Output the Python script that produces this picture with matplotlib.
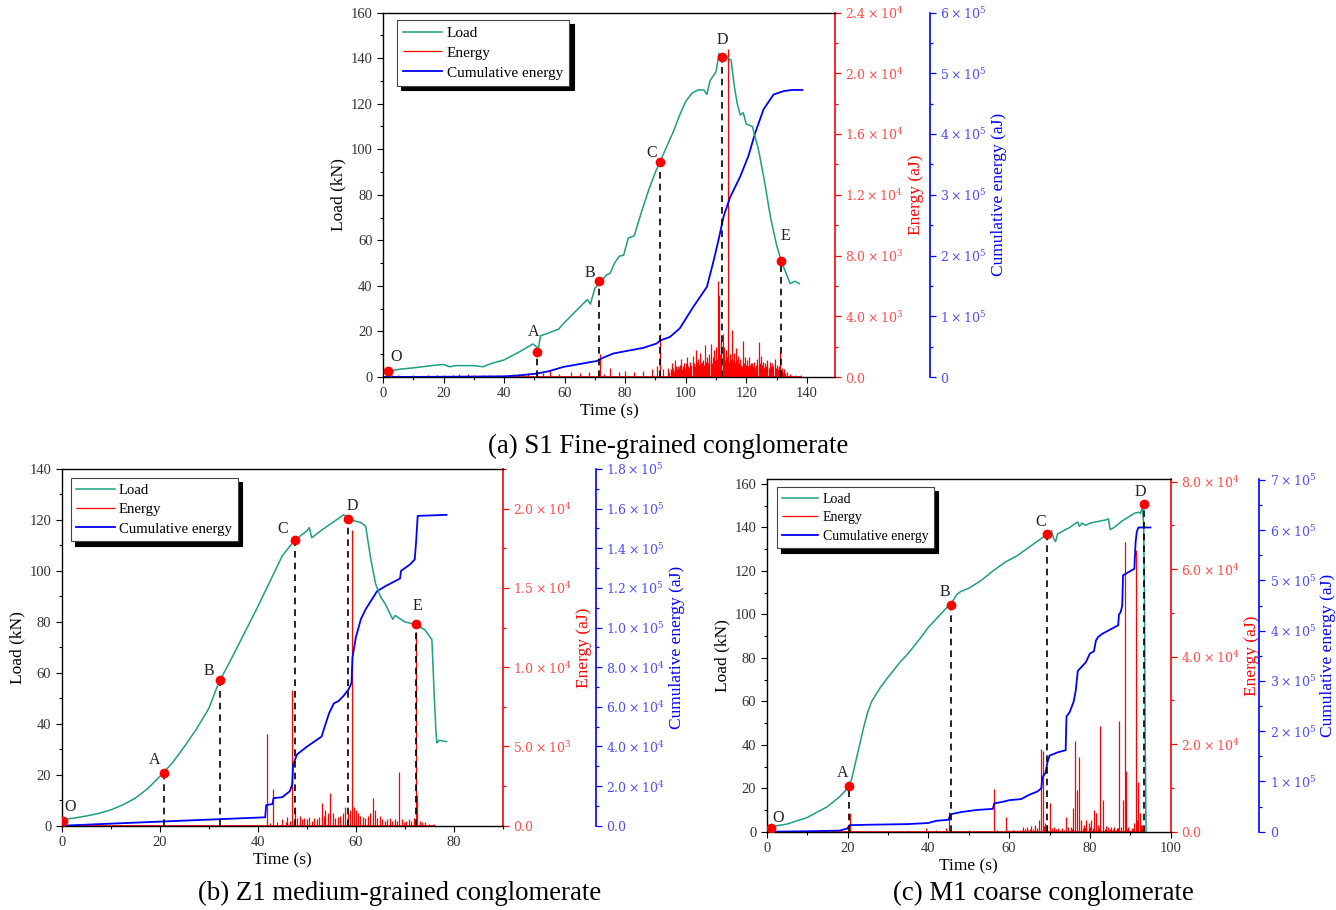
import matplotlib
matplotlib.use('Agg')
import matplotlib.pyplot as plt
from matplotlib.ticker import MultipleLocator, FixedLocator

plt.rcParams['font.family'] = ['Liberation Serif', 'DejaVu Serif']
plt.rcParams['mathtext.fontset'] = 'dejavuserif'

# ---------------- (a) S1 ----------------
A_LOAD_T = [2.8, 3.5, 6, 10, 13, 16, 20, 22, 24, 27, 30, 33, 36, 40, 45, 49.5, 50.5, 51.3, 52, 55,
            58, 60, 63, 66, 67.5, 68.5, 70, 72, 74, 75, 76.5, 78, 79.5, 81, 83, 85.5, 88, 90, 92, 94,
            96, 98, 100, 102, 104, 106, 107, 108, 110, 111, 112, 113, 114, 115, 116, 117, 118, 119, 120, 122,
            124, 126, 128, 130, 131.5, 133, 134.5, 136, 137.5]
A_LOAD = [0.5, 3, 3.5, 4, 4.5, 5, 5.5, 4.5, 5, 5, 5, 4.5, 6, 7.5, 11, 14.5, 13.5, 12, 18, 19.5,
          21, 24, 28, 32, 34, 32, 39, 42, 45, 45.5, 50, 53, 53.5, 61, 62, 73, 83, 90, 96, 102,
          108, 115, 121, 124.5, 126, 126, 124, 130, 134, 142, 138, 141, 140, 139, 128, 120, 115, 116, 111, 110,
          100, 86, 70, 58, 51, 46, 41, 42, 41]
A_E_T = [1, 3, 5, 8, 10, 13, 15, 18, 20, 23, 25, 28, 30, 33, 35, 38, 40, 43, 45, 48,
         51, 53, 55, 58, 62, 65, 68, 71.7, 73, 75, 78, 80, 83, 86, 89, 90.5, 91.5, 92.5, 94, 95.5,
         96.5, 97.5, 98.5, 99.5, 100.5, 101.5, 102.3, 103.3, 104, 104.8, 105.5, 106.3, 107, 107.8, 108.5, 109.3, 110, 110.6, 111.1, 111.6,
         112.2, 112.8, 113.4, 114, 114.6, 115.3, 116, 116.7, 117.3, 118, 118.9, 119.6, 120.3, 121, 121.8, 122.6, 123.4, 124.1, 124.8, 125.5,
         126.2, 127, 127.8, 128.6, 129.4, 130.2, 131.1, 131.8, 132.6, 133.5, 134.5, 136, 138]
A_E = [150, 100, 120, 90, 120, 80, 100, 130, 150, 120, 200, 180, 150, 130, 120, 140, 150, 180, 200, 250,
       300, 250, 450, 200, 300, 250, 300, 1540, 200, 600, 300, 400, 300, 400, 500, 700, 2860, 500, 600, 900,
       1100, 700, 1200, 900, 1300, 1000, 1400, 1750, 1200, 1600, 1000, 2100, 1300, 1500, 2200, 1800, 2000, 6300, 5400, 2400,
       2800, 2000, 1800, 21600, 1500, 3080, 1600, 1900, 1400, 1200, 2400, 1300, 1100, 1300, 900, 1000, 1200, 2300, 1400, 1000,
       900, 1100, 1000, 900, 1200, 800, 1650, 600, 500, 300, 200, 150, 100]
# dense low-level AE activity between C and E
A_NOISE_T = [94.2, 94.6, 95.0, 95.8, 96.2, 96.8, 97.2, 97.8, 98.2, 98.8, 99.2, 99.8, 100.2, 100.8, 101.2, 101.8, 102.6, 103.0, 103.6, 104.3,
             104.6, 105.2, 105.8, 106.0, 106.6, 107.3, 107.6, 108.2, 108.8, 109.0, 109.6, 110.3, 110.8, 111.4, 111.8, 112.5, 113.0, 113.7, 114.3, 114.8,
             115.0, 115.6, 116.3, 116.5, 117.0, 117.6, 118.3, 118.6, 119.3, 119.9, 120.6, 121.3, 121.5, 122.2, 122.9, 123.1, 123.7, 124.4, 125.1, 125.8,
             126.5, 126.8, 127.4, 128.1, 128.3, 128.9, 129.7, 130.5, 130.8, 131.4, 132.2, 132.9]
A_NOISE = [400, 300, 500, 600, 400, 700, 500, 600, 800, 500, 700, 600, 900, 700, 600, 800, 900, 700, 1000, 800,
           700, 900, 1100, 800, 1000, 900, 1200, 1000, 900, 1300, 1100, 1200, 1000, 1500, 1200, 1400, 1100, 1300, 1000, 1200,
           900, 1100, 1000, 800, 1100, 900, 800, 700, 900, 800, 700, 800, 900, 700, 600, 800, 700, 900, 800, 600,
           700, 800, 600, 700, 500, 700, 600, 500, 700, 400, 300, 250]
A_CUM_T = [0, 20, 40, 45, 50.7, 55, 59.5, 65, 70.6, 72.8, 76, 81.6, 86, 90.4, 91.5, 94.8, 98, 102.5, 107, 109.2,
           110.8, 112.5, 114.7, 118, 120.7, 122.9, 125.7, 129, 132.3, 135, 138.5]
A_CUM = [0, 400, 1100, 2600, 5600, 9800, 16500, 21400, 26300, 31900, 38600, 43900, 48000, 55100, 60000, 66000, 79900, 115500, 148500, 191300,
         225000, 264400, 296300, 330000, 363800, 401300, 440600, 465000, 470600, 472500, 472500]
A_PT_T = [1.5, 51, 71.5, 91.5, 112, 131.3]
A_PT_Y = [2.5, 11, 42, 94.5, 140.5, 51]
A_LAB_T = [4.2, 49.6, 68.4, 88.8, 112.2, 132.9]
A_LAB_Y = [8.8, 19.8, 45.8, 98.4, 148, 61.7]
A_E_TICKS = [0, 4000, 8000, 12000, 16000, 20000, 24000]
A_E_LABELS = [r'$0.0$', r'$4.0\times10^{3}$', r'$8.0\times10^{3}$', r'$1.2\times10^{4}$',
              r'$1.6\times10^{4}$', r'$2.0\times10^{4}$', r'$2.4\times10^{4}$']
A_C_TICKS = [0, 1e5, 2e5, 3e5, 4e5, 5e5, 6e5]
A_C_LABELS = [r'$0$'] + [r'$%d\times10^{5}$' % k for k in range(1, 7)]

# ---------------- (b) Z1 ----------------
B_LOAD_T = [0, 2.5, 5, 7.5, 10, 12.5, 15, 17.5, 20, 22.5, 25, 27.5, 30, 32, 35, 40, 45, 47.5, 50, 50.5,
            51, 53, 56, 57.5, 59, 61, 62, 63, 64, 65, 66, 67, 67.5, 68, 70, 72, 74, 75.5, 76, 76.3,
            76.5, 77, 78.5]
B_LOAD = [2.3, 3, 3.8, 4.8, 6.2, 8.2, 10.8, 14.5, 19.3, 24.5, 31, 38, 46, 56, 67, 86, 106, 112, 115.7, 117,
          113, 116, 120, 122, 120, 119, 117.5, 105, 95, 90, 87, 83, 81, 82.5, 80, 79, 77, 73, 50, 38,
          32.5, 33.5, 33]
B_E_T = [0.5, 3, 6, 9, 12, 15, 18, 21, 24, 27, 30, 33, 36, 39, 41.8, 42.5, 43, 44, 45, 45.7,
         46, 46.5, 47, 47.5, 48, 48.5, 49, 49.5, 50, 50.5, 51, 51.5, 52, 52.5, 53, 53.4, 53.8, 54.3, 54.8, 55.3,
         55.8, 56.3, 56.8, 57.3, 57.8, 58.3, 58.8, 59.3, 59.6, 60, 60.4, 60.9, 61.4, 61.9, 62.4, 62.9, 63.4, 63.9, 64.4, 64.9,
         65.4, 65.9, 66.4, 66.9, 67.4, 67.9, 68.4, 68.8, 69.3, 69.8, 70.3, 70.8, 71.3, 71.8, 72.2, 72.5, 73, 73.5, 74, 75, 76]
B_E = [32, 48, 32, 48, 64, 48, 48, 64, 48, 48, 64, 48, 48, 64, 5790, 161, 2300, 241, 402, 241,
       562, 321, 8580, 1045, 482, 643, 402, 482, 402, 562, 321, 482, 402, 562, 1414, 643, 964, 804, 2089, 804,
       482, 562, 643, 804, 1205, 804, 964, 18640, 1205, 964, 804, 643, 562, 482, 643, 804, 1736, 964, 482, 643,
       402, 321, 402, 482, 321, 402, 321, 3370, 402, 241, 321, 402, 321, 482, 12210, 1928, 321, 241, 241, 129, 80]
B_CUM_T = [0, 20, 41.5, 41.7, 43, 43.2, 45, 46.5, 47, 47.2, 48, 50, 53, 54.5, 55.5, 56.5, 57.5, 58.5, 59.1, 59.3,
           60, 61, 62, 63, 64.3, 66, 68, 69, 69.2, 71, 72, 72.3, 72.6, 78.5]
B_CUM = [0, 2060, 4240, 10410, 10930, 13890, 14400, 17360, 20570, 30860, 36000, 39860, 45000, 56570, 61710, 63000, 65570, 68790, 72000, 84860,
         95140, 104140, 109290, 113140, 118290, 120860, 123430, 124710, 128570, 131790, 134360, 144000, 156340, 156860]
B_PT_T = [0.3, 20.8, 32.2, 47.5, 58.3, 72.3]
B_PT_Y = [2, 20.5, 57, 112, 120.5, 79]
B_LAB_T = [1.7, 18.9, 30.1, 45.1, 59.2, 72.5]
B_LAB_Y = [7.5, 25.9, 60.9, 116.4, 125.3, 86.2]
B_E_TICKS = [0, 5000, 10000, 15000, 20000]
B_E_LABELS = [r'$0.0$', r'$5.0\times10^{3}$', r'$1.0\times10^{4}$', r'$1.5\times10^{4}$', r'$2.0\times10^{4}$']
B_C_TICKS = [0, 2e4, 4e4, 6e4, 8e4, 1e5, 1.2e5, 1.4e5, 1.6e5, 1.8e5]
B_C_LABELS = [r'$0.0$', r'$2.0\times10^{4}$', r'$4.0\times10^{4}$', r'$6.0\times10^{4}$', r'$8.0\times10^{4}$',
              r'$1.0\times10^{5}$', r'$1.2\times10^{5}$', r'$1.4\times10^{5}$', r'$1.6\times10^{5}$', r'$1.8\times10^{5}$']

# ---------------- (c) M1 ----------------
C_LOAD_T = [0, 5, 10, 15, 18, 20, 21, 22, 23, 24, 25, 26, 28, 30, 33, 35, 38, 40, 43, 45,
            46, 47, 48, 50, 53, 56, 59, 62, 65, 68, 69.5, 70, 70.5, 71, 71.5, 72, 75, 77, 77.4, 78,
            79, 80, 84, 84.6, 85, 86, 88, 91, 92, 92.5, 93, 93.3, 93.5, 93.7, 93.9]
C_LOAD = [2, 3.5, 6.5, 11.5, 16, 20, 24, 32, 40, 48, 55, 60, 66, 71, 78, 82, 89, 94, 100, 104,
          106, 109, 110.5, 112, 115.5, 120, 124, 127, 131, 135, 137, 137, 138.5, 135, 133.5, 137, 140, 142.5, 140.5, 142,
          141, 142, 143.5, 144, 139, 140, 143, 146.5, 147, 146.5, 149, 142, 110, 40, 0]
C_E_T = [5, 10, 15, 20.7, 25, 30, 35, 39.5, 42, 44.5, 45, 47, 50, 53, 56.3, 57, 59.3, 60, 62, 63.5,
         64.5, 65.5, 66.5, 67.3, 67.8, 68.3, 69, 69.5, 70, 71, 72, 73, 74, 74.5, 75.2, 75.9, 76.4, 76.9, 77.2, 77.8,
         78.5, 79, 79.7, 80.3, 81, 81.5, 82, 82.5, 83.3, 84, 84.5, 85.3, 86, 86.7, 87.3, 88.2, 88.6, 88.9, 89.5, 90.3,
         91, 91.3, 91.6, 92, 92.4, 93]
C_E = [150, 150, 200, 4170, 250, 200, 250, 745, 300, 745, 4570, 250, 300, 250, 9730, 300, 3430, 500, 500, 1140,
       990, 1240, 1490, 2680, 18820, 18370, 1990, 1490, 6460, 990, 745, 745, 3430, 990, 990, 5310, 20810, 9440, 16980, 2680,
       1490, 2680, 1990, 2680, 4970, 4170, 1490, 24130, 7250, 1240, 1140, 990, 1140, 745, 25330, 7250, 66250, 13900, 990, 745,
       1990, 64360, 2680, 11420, 4170, 1490]
C_NOISE_T = [60.6, 61.3, 62.6, 63.1, 64.0, 64.8, 65.1, 66.0, 66.9, 68.7, 70.5, 71.5, 72.5, 73.5, 75.6, 78.2, 78.8, 80.0,
             80.7, 82.2, 83.7, 85.0, 85.7, 86.4, 87.0, 87.7, 89.2, 89.8, 90.6, 92.7]
C_NOISE = [350, 300, 450, 400, 600, 500, 700, 600, 900, 1200, 800, 600, 500, 500, 700, 900, 800, 1000,
           900, 800, 700, 600, 700, 500, 900, 1100, 600, 500, 700, 1500]
C_CUM_T = [0, 10, 18, 20, 20.5, 25, 35, 40, 42, 45, 45.5, 48, 52, 56, 56.3, 59, 60, 63, 65, 67,
           68, 68.2, 69, 69.5, 70, 72, 74, 74.2, 75, 76, 76.5, 77, 79, 80, 81, 81.5, 82, 83, 85, 87,
           87.2, 87.6, 88, 88.2, 91, 91.3, 91.6, 92, 95]
C_CUM = [0, 870, 2160, 6490, 12980, 13840, 15140, 17300, 21630, 23790, 34600, 38930, 43250, 45410, 56230, 60550, 62710, 64880, 73530, 80010,
         86500, 108130, 116780, 138400, 151380, 157860, 162190, 229230, 237880, 259500, 281130, 320050, 337350, 354650, 358980, 380600, 387090, 393580, 402230, 410880,
         432500, 436830, 449800, 510350, 523330, 575230, 596850, 605500, 605500]
C_PT_T = [1, 20.3, 45.5, 69.3, 93.3]
C_PT_Y = [1.5, 21, 104.5, 137, 151]
C_LAB_T = [2.9, 18.8, 44, 67.8, 92.6]
C_LAB_Y = [6.1, 26.8, 110.4, 142.6, 156.4]
C_E_TICKS = [0, 20000, 40000, 60000, 80000]
C_E_LABELS = [r'$0.0$', r'$2.0\times10^{4}$', r'$4.0\times10^{4}$', r'$6.0\times10^{4}$', r'$8.0\times10^{4}$']
C_C_TICKS = [0, 1e5, 2e5, 3e5, 4e5, 5e5, 6e5, 7e5]
C_C_LABELS = [r'$0$'] + [r'$%d\times10^{5}$' % k for k in range(1, 8)]

LETTERS = ['O', 'A', 'B', 'C', 'D', 'E']
LOAD_C = '#1f9e83'
W, H = 1336, 910

fig = plt.figure(figsize=(W / 100, H / 100), dpi=100)


def px_rect(l, t, r, b):
    return [l / W, 1 - b / H, (r - l) / W, (b - t) / H]


def draw_panel(rect, xmax, ymax, emax, cmax, e_ticks, e_labels, e_minor, c_ticks, c_labels, c_minor, off,
               load_t, load, e_t, e, cum_t, cum, pt_t, pt_y, lab_t, lab_y, leg_anchor, leg_fs):
    ax = fig.add_axes(rect)
    ax_e = ax.twinx()
    ax_c = ax.twinx()
    ax.set_zorder(3)
    ax.patch.set_visible(False)
    ax_e.set_zorder(1)
    ax_c.set_zorder(2)

    l_load, = ax.plot(load_t, load, color=LOAD_C, lw=1.1, label='Load')
    l_e = ax_e.vlines(e_t, 0, e, colors='red', lw=0.9, label='Energy')
    # baseline of the AE energy trace
    ax_e.plot([min(e_t), max(e_t)], [0, 0], color='red', lw=1.2)
    l_c, = ax_c.plot(cum_t, cum, color='blue', lw=1.3, label='Cumulative energy')

    # feature points and drop lines
    ax.vlines(pt_t[1:], 0, pt_y[1:], colors='black', linestyles=(0, (4, 3)), lw=1.2, zorder=4)
    ax.plot(pt_t, pt_y, 'o', color='red', ms=6, zorder=5)
    for L, tx, ty in zip(LETTERS, lab_t, lab_y):
        ax.text(tx, ty, L, ha='center', va='center', fontsize=11.5, color='#222', zorder=6)

    ax.set_xlim(0, xmax)
    ax.set_ylim(0, ymax)
    ax_e.set_ylim(0, emax)
    ax_c.set_ylim(0, cmax)

    ax.xaxis.set_major_locator(MultipleLocator(20))
    ax.xaxis.set_minor_locator(MultipleLocator(10))
    ax.yaxis.set_major_locator(MultipleLocator(20))
    ax.yaxis.set_minor_locator(MultipleLocator(10))
    ax_e.yaxis.set_major_locator(FixedLocator(e_ticks))
    ax_e.set_yticklabels(e_labels)
    ax_e.yaxis.set_minor_locator(MultipleLocator(e_minor))
    ax_c.yaxis.set_major_locator(FixedLocator(c_ticks))
    ax_c.set_yticklabels(c_labels)
    ax_c.yaxis.set_minor_locator(MultipleLocator(c_minor))

    ax.spines['right'].set_visible(False)
    for a2 in (ax_e, ax_c):
        for s in ('left', 'top', 'bottom'):
            a2.spines[s].set_visible(False)
    ax_e.spines['right'].set_color('red')
    ax_c.spines['right'].set_color('blue')
    ax_c.spines['right'].set_position(('axes', off))
    for s in ax.spines.values():
        s.set_linewidth(1.0)
    ax_e.spines['right'].set_linewidth(1.2)
    ax_c.spines['right'].set_linewidth(1.2)

    ax.tick_params(which='major', length=4, width=0.8, labelsize=10.5, labelcolor='#333')
    ax.tick_params(which='minor', length=2.5, width=0.8)
    ax_e.tick_params(which='major', length=4, width=0.9, color='red', labelcolor='#ff4d4d', labelsize=9)
    ax_e.tick_params(which='minor', length=2.5, width=0.9, color='red')
    ax_c.tick_params(which='major', length=4, width=0.9, color='blue', labelcolor='#4d4dff', labelsize=9)
    ax_c.tick_params(which='minor', length=2.5, width=0.9, color='blue')

    ax.set_xlabel('Time (s)', fontsize=12.5, labelpad=2)
    ax.set_ylabel('Load (kN)', fontsize=12.5, labelpad=3)
    ax_e.set_ylabel('Energy (aJ)', fontsize=12.5, color='red', labelpad=3)
    ax_c.set_ylabel('Cumulative energy (aJ)', fontsize=12.5, color='blue', labelpad=3)

    leg = ax.legend([l_load, l_e, l_c], ['Load', 'Energy', 'Cumulative energy'],
                    loc='upper left', bbox_to_anchor=leg_anchor, borderaxespad=0,
                    fontsize=leg_fs, fancybox=False, framealpha=1, edgecolor='#444',
                    handlelength=2.6, handletextpad=0.3, labelspacing=0.4, borderpad=0.4,
                    shadow={'color': 'black', 'alpha': 1, 'ox': 3, 'oy': -3})
    leg.get_frame().set_linewidth(0.8)
    return ax


draw_panel(px_rect(383, 12.5, 835, 377), 149.3, 160, 24000, 6e5,
           A_E_TICKS, A_E_LABELS, 2000, A_C_TICKS, A_C_LABELS, 5e4, 1.21,
           A_LOAD_T, A_LOAD, A_E_T + A_NOISE_T, A_E + A_NOISE, A_CUM_T, A_CUM,
           A_PT_T, A_PT_Y, A_LAB_T, A_LAB_Y, (0.030, 0.979), 11)
draw_panel(px_rect(61.7, 469, 503, 825.7), 90, 140, 22500, 1.8e5,
           B_E_TICKS, B_E_LABELS, 2500, B_C_TICKS, B_C_LABELS, 1e4, 1.21,
           B_LOAD_T, B_LOAD, B_E_T, B_E, B_CUM_T, B_CUM,
           B_PT_T, B_PT_Y, B_LAB_T, B_LAB_Y, (0.020, 0.975), 10.6)
draw_panel(px_rect(766.7, 479, 1170.7, 831.7), 100, 162.3, 80600, 7.02e5,
           C_E_TICKS, C_E_LABELS, 10000, C_C_TICKS, C_C_LABELS, 5e4, 1.219,
           C_LOAD_T, C_LOAD, C_E_T + C_NOISE_T, C_E + C_NOISE, C_CUM_T, C_CUM,
           C_PT_T, C_PT_Y, C_LAB_T, C_LAB_Y, (0.025, 0.977), 10)

fig.text(668 / W, 1 - 446 / H, '(a) S1 Fine-grained conglomerate', ha='center', va='center', fontsize=19.3)
fig.text(400 / W, 1 - 893 / H, '(b) Z1 medium-grained conglomerate', ha='center', va='center', fontsize=19.3)
fig.text(1043 / W, 1 - 893 / H, '(c) M1 coarse conglomerate', ha='center', va='center', fontsize=19.3)

fig.savefig('out.png', dpi=100)
